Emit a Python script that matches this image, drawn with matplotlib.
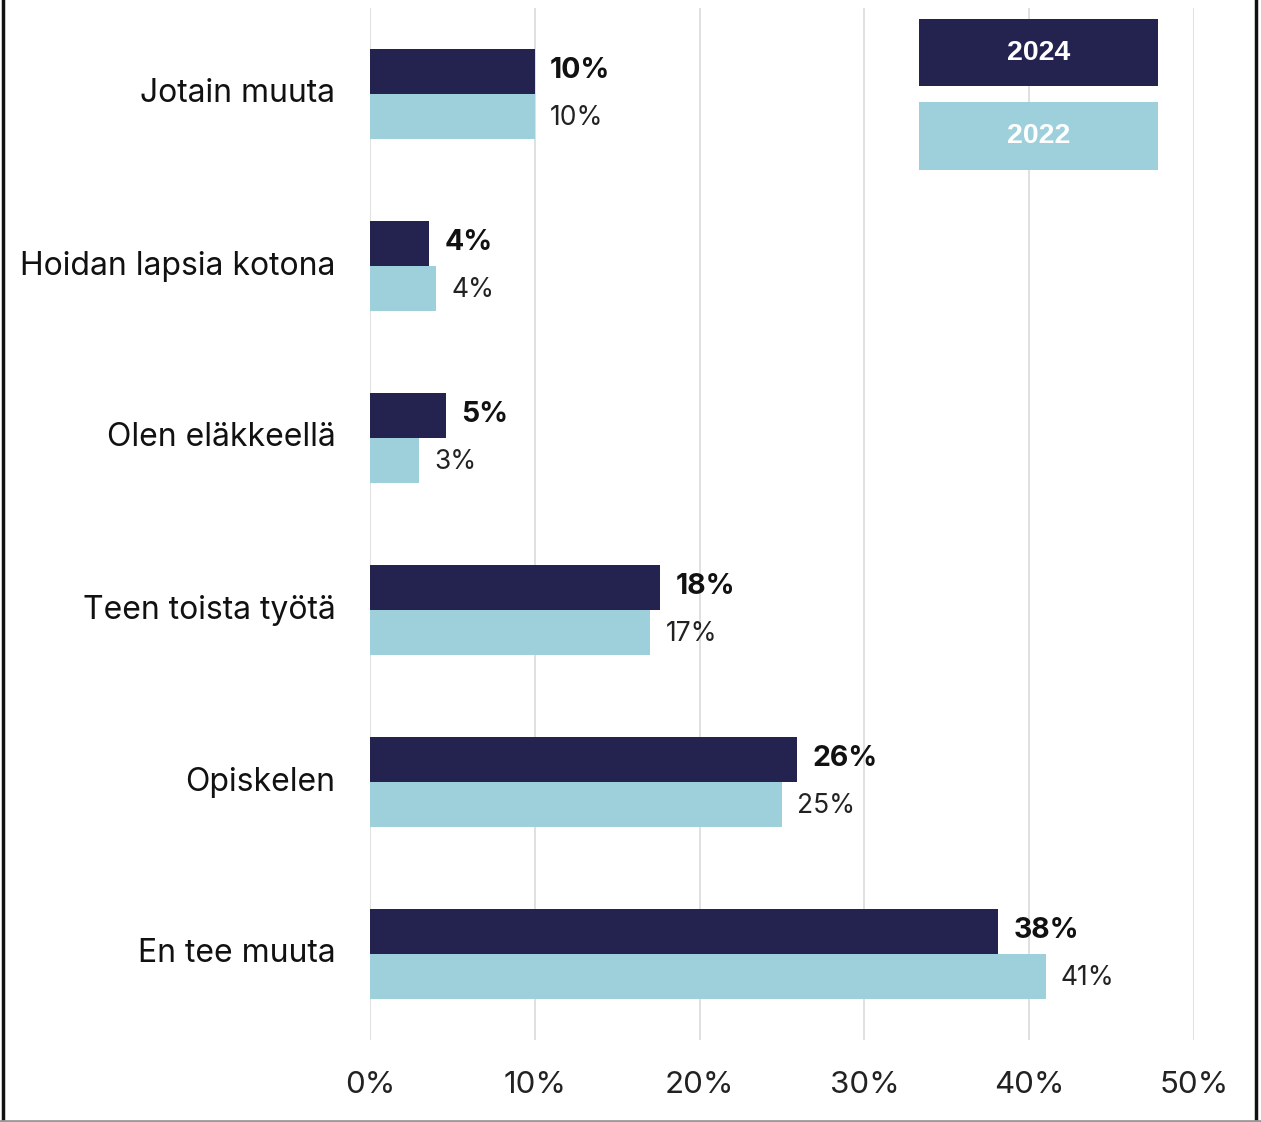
import matplotlib.pyplot as plt
from matplotlib.patches import Rectangle
from matplotlib.lines import Line2D
import numpy as np

# Data
categories = ['En tee muuta', 'Opiskelen', 'Teen toista työtä',
              'Olen eläkkeellä', 'Hoidan lapsia kotona', 'Jotain muuta']
values_2024 = [38.1, 25.9, 17.6, 4.6, 3.6, 10.0]
values_2022 = [41.0, 25.0, 17.0, 3.0, 4.0, 10.0]
labels_2024 = ['38%', '26%', '18%', '5%', '4%', '10%']
labels_2022 = ['41%', '25%', '17%', '3%', '4%', '10%']
xticks = [0, 10, 20, 30, 40, 50]
xtick_labels = ['0%', '10%', '20%', '30%', '40%', '50%']

c_2024 = '#24224f'
c_2022 = '#9dd0db'

plt.rcParams['font.family'] = ['Inter', 'DejaVu Sans']

fig = plt.figure(figsize=(12.61, 11.22), dpi=100)
ax = fig.add_axes([370 / 1261, 1 - 1040 / 1122, 824 / 1261, 1032 / 1122])

y = np.arange(len(categories))
h = 0.262
ax.barh(y + h / 2, values_2024, height=h, color=c_2024, zorder=2)
ax.barh(y - h / 2, values_2022, height=h, color=c_2022, zorder=2)

# value labels
for yi, v, lab in zip(y, values_2024, labels_2024):
    ax.annotate(lab, (v, yi + h / 2), xytext=(11, 1), textcoords='offset points',
                va='center', ha='left', fontsize=20.5, fontweight='bold', color='#111111')
for yi, v, lab in zip(y, values_2022, labels_2022):
    ax.annotate(lab, (v, yi - h / 2), xytext=(11, -1), textcoords='offset points',
                va='center', ha='left', fontsize=19, color='#222222')

ax.set_xlim(0, 50)
ax.set_ylim(-0.5, 5.5)
ax.set_xticks(xticks)
ax.set_xticklabels(xtick_labels, fontsize=22.5, color='#222222')
ax.set_yticks(y)
ax.set_yticklabels(categories, fontsize=23, color='#111111', va='center')
for t in ax.get_yticklabels():
    t.set_y(t.get_position()[1])
ax.tick_params(axis='x', length=0, pad=22)
ax.tick_params(axis='y', length=0, pad=25)
ax.grid(axis='x', color='#dddddd', linewidth=1.3, zorder=0)
ax.set_axisbelow(True)
for s in ax.spines.values():
    s.set_visible(False)

# legend boxes
for (y0, y1), col, txt in [((0.924, 0.989), c_2024, '2024'), ((0.843, 0.909), c_2022, '2022')]:
    ax.add_patch(Rectangle((0.666, y0), 0.290, y1 - y0, transform=ax.transAxes,
                           facecolor=col, edgecolor='none', zorder=5))
    ax.text(0.811, (y0 + y1) / 2, txt, transform=ax.transAxes, ha='center', va='center',
            color='white', fontsize=20.5, fontweight='bold', family='Liberation Sans', zorder=6)

# screenshot frame
fig.add_artist(Line2D([3 / 1261, 3 / 1261], [0, 1], color='#111111', linewidth=2.5))
fig.add_artist(Line2D([1256 / 1261, 1256 / 1261], [0, 1], color='#111111', linewidth=2.5))
fig.add_artist(Line2D([0, 1], [1.5 / 1122, 1.5 / 1122], color='#999999', linewidth=2))

fig.savefig('out.png', dpi=100)
